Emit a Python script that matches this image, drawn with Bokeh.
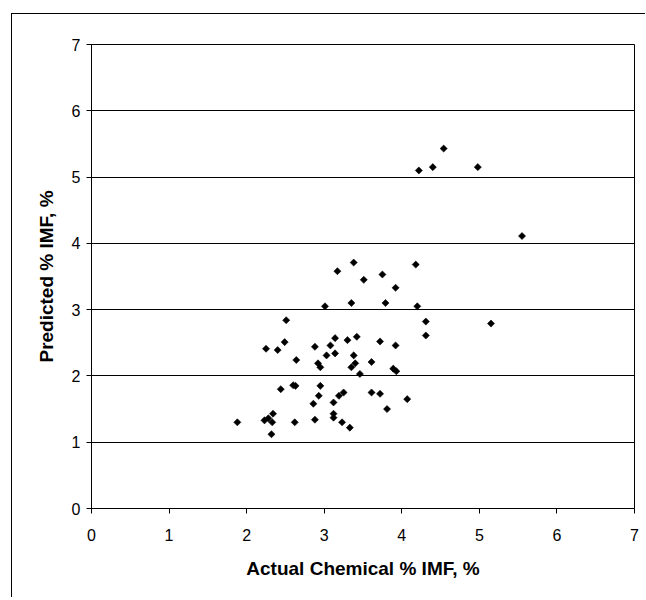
import math
from bokeh.plotting import figure
from bokeh.models import Range1d, FixedTicker
from bokeh.embed import file_html
from bokeh.resources import INLINE

# Actual chemical %IMF (x) vs predicted %IMF (y)
actual = [2.51, 2.49, 2.25, 2.40, 2.64, 2.44, 2.60, 2.63, 2.62, 1.88,
          2.23, 2.28, 2.34, 2.33, 2.32,
          3.17, 3.38, 3.51, 3.75, 4.18, 3.92, 3.01, 3.35, 3.79, 4.20,
          4.31, 4.31, 2.88, 3.08, 3.14, 3.30, 3.42, 3.72, 3.92, 3.03,
          3.14, 3.38, 2.92, 2.95, 3.35, 3.40, 3.46, 3.61, 3.89, 3.93,
          2.95, 2.93, 2.86, 3.12, 3.19, 3.25, 3.61, 3.72, 4.07, 3.81,
          2.88, 3.12, 3.12, 3.23, 3.33,
          4.22, 4.40, 4.98, 4.54, 5.55, 5.15]
predicted = [2.84, 2.51, 2.41, 2.39, 2.24, 1.80, 1.86, 1.85, 1.30, 1.30,
             1.33, 1.36, 1.43, 1.30, 1.12,
             3.58, 3.71, 3.45, 3.53, 3.68, 3.33, 3.05, 3.10, 3.10, 3.05,
             2.82, 2.61, 2.44, 2.46, 2.57, 2.54, 2.59, 2.52, 2.46, 2.31,
             2.34, 2.31, 2.19, 2.13, 2.13, 2.19, 2.03, 2.21, 2.11, 2.07,
             1.85, 1.70, 1.58, 1.60, 1.70, 1.75, 1.75, 1.73, 1.65, 1.50,
             1.34, 1.43, 1.37, 1.30, 1.22,
             5.10, 5.15, 5.15, 5.43, 4.11, 2.79]

ticks = [0, 1, 2, 3, 4, 5, 6, 7]
x_title = "Actual Chemical % IMF, %"
y_title = "Predicted % IMF, %"

FONT = "Liberation Sans"

p = figure(width=634, height=584, output_backend="svg", toolbar_location=None,
           x_range=Range1d(0, 7), y_range=Range1d(0, 7),
           min_border_left=79, min_border_right=12, min_border_top=30,
           min_border_bottom=90, margin=(14, 0, 0, 12),
           background_fill_color="white", border_fill_color="white")
# outer chart-area border (only its top and left edges fall inside the picture)
p.styles = {"box-shadow": "-1px -1px 0px 0px black"}

p.outline_line_color = "black"
p.outline_line_width = 1
p.outline_line_alpha = 1

p.xgrid.visible = False
p.ygrid.grid_line_color = "black"
p.ygrid.grid_line_width = 1
p.ygrid.ticker = FixedTicker(ticks=ticks)

for ax in (p.xaxis[0], p.yaxis[0]):
    ax.ticker = FixedTicker(ticks=ticks)
    ax.minor_tick_line_color = None
    ax.major_tick_in = 0
    ax.major_tick_out = 5
    ax.major_tick_line_color = "black"
    ax.axis_line_color = "black"
    ax.major_label_text_font = FONT
    ax.major_label_text_font_size = "16px"
    ax.major_label_text_color = "black"
    ax.axis_label_text_font = FONT
    ax.axis_label_text_font_size = "19px"
    ax.axis_label_text_font_style = "bold"
    ax.axis_label_text_color = "black"

p.xaxis.axis_label = x_title
p.yaxis.axis_label = y_title
p.xaxis.major_label_standoff = 15
p.yaxis.major_label_standoff = 6
p.xaxis.axis_label_standoff = 14
p.yaxis.axis_label_standoff = 12

p.scatter(actual, predicted, marker="square", angle=math.pi / 4, size=5,
          fill_color="black", line_color="black", line_width=0.6)

open("out.html", "w").write(file_html(p, INLINE))
